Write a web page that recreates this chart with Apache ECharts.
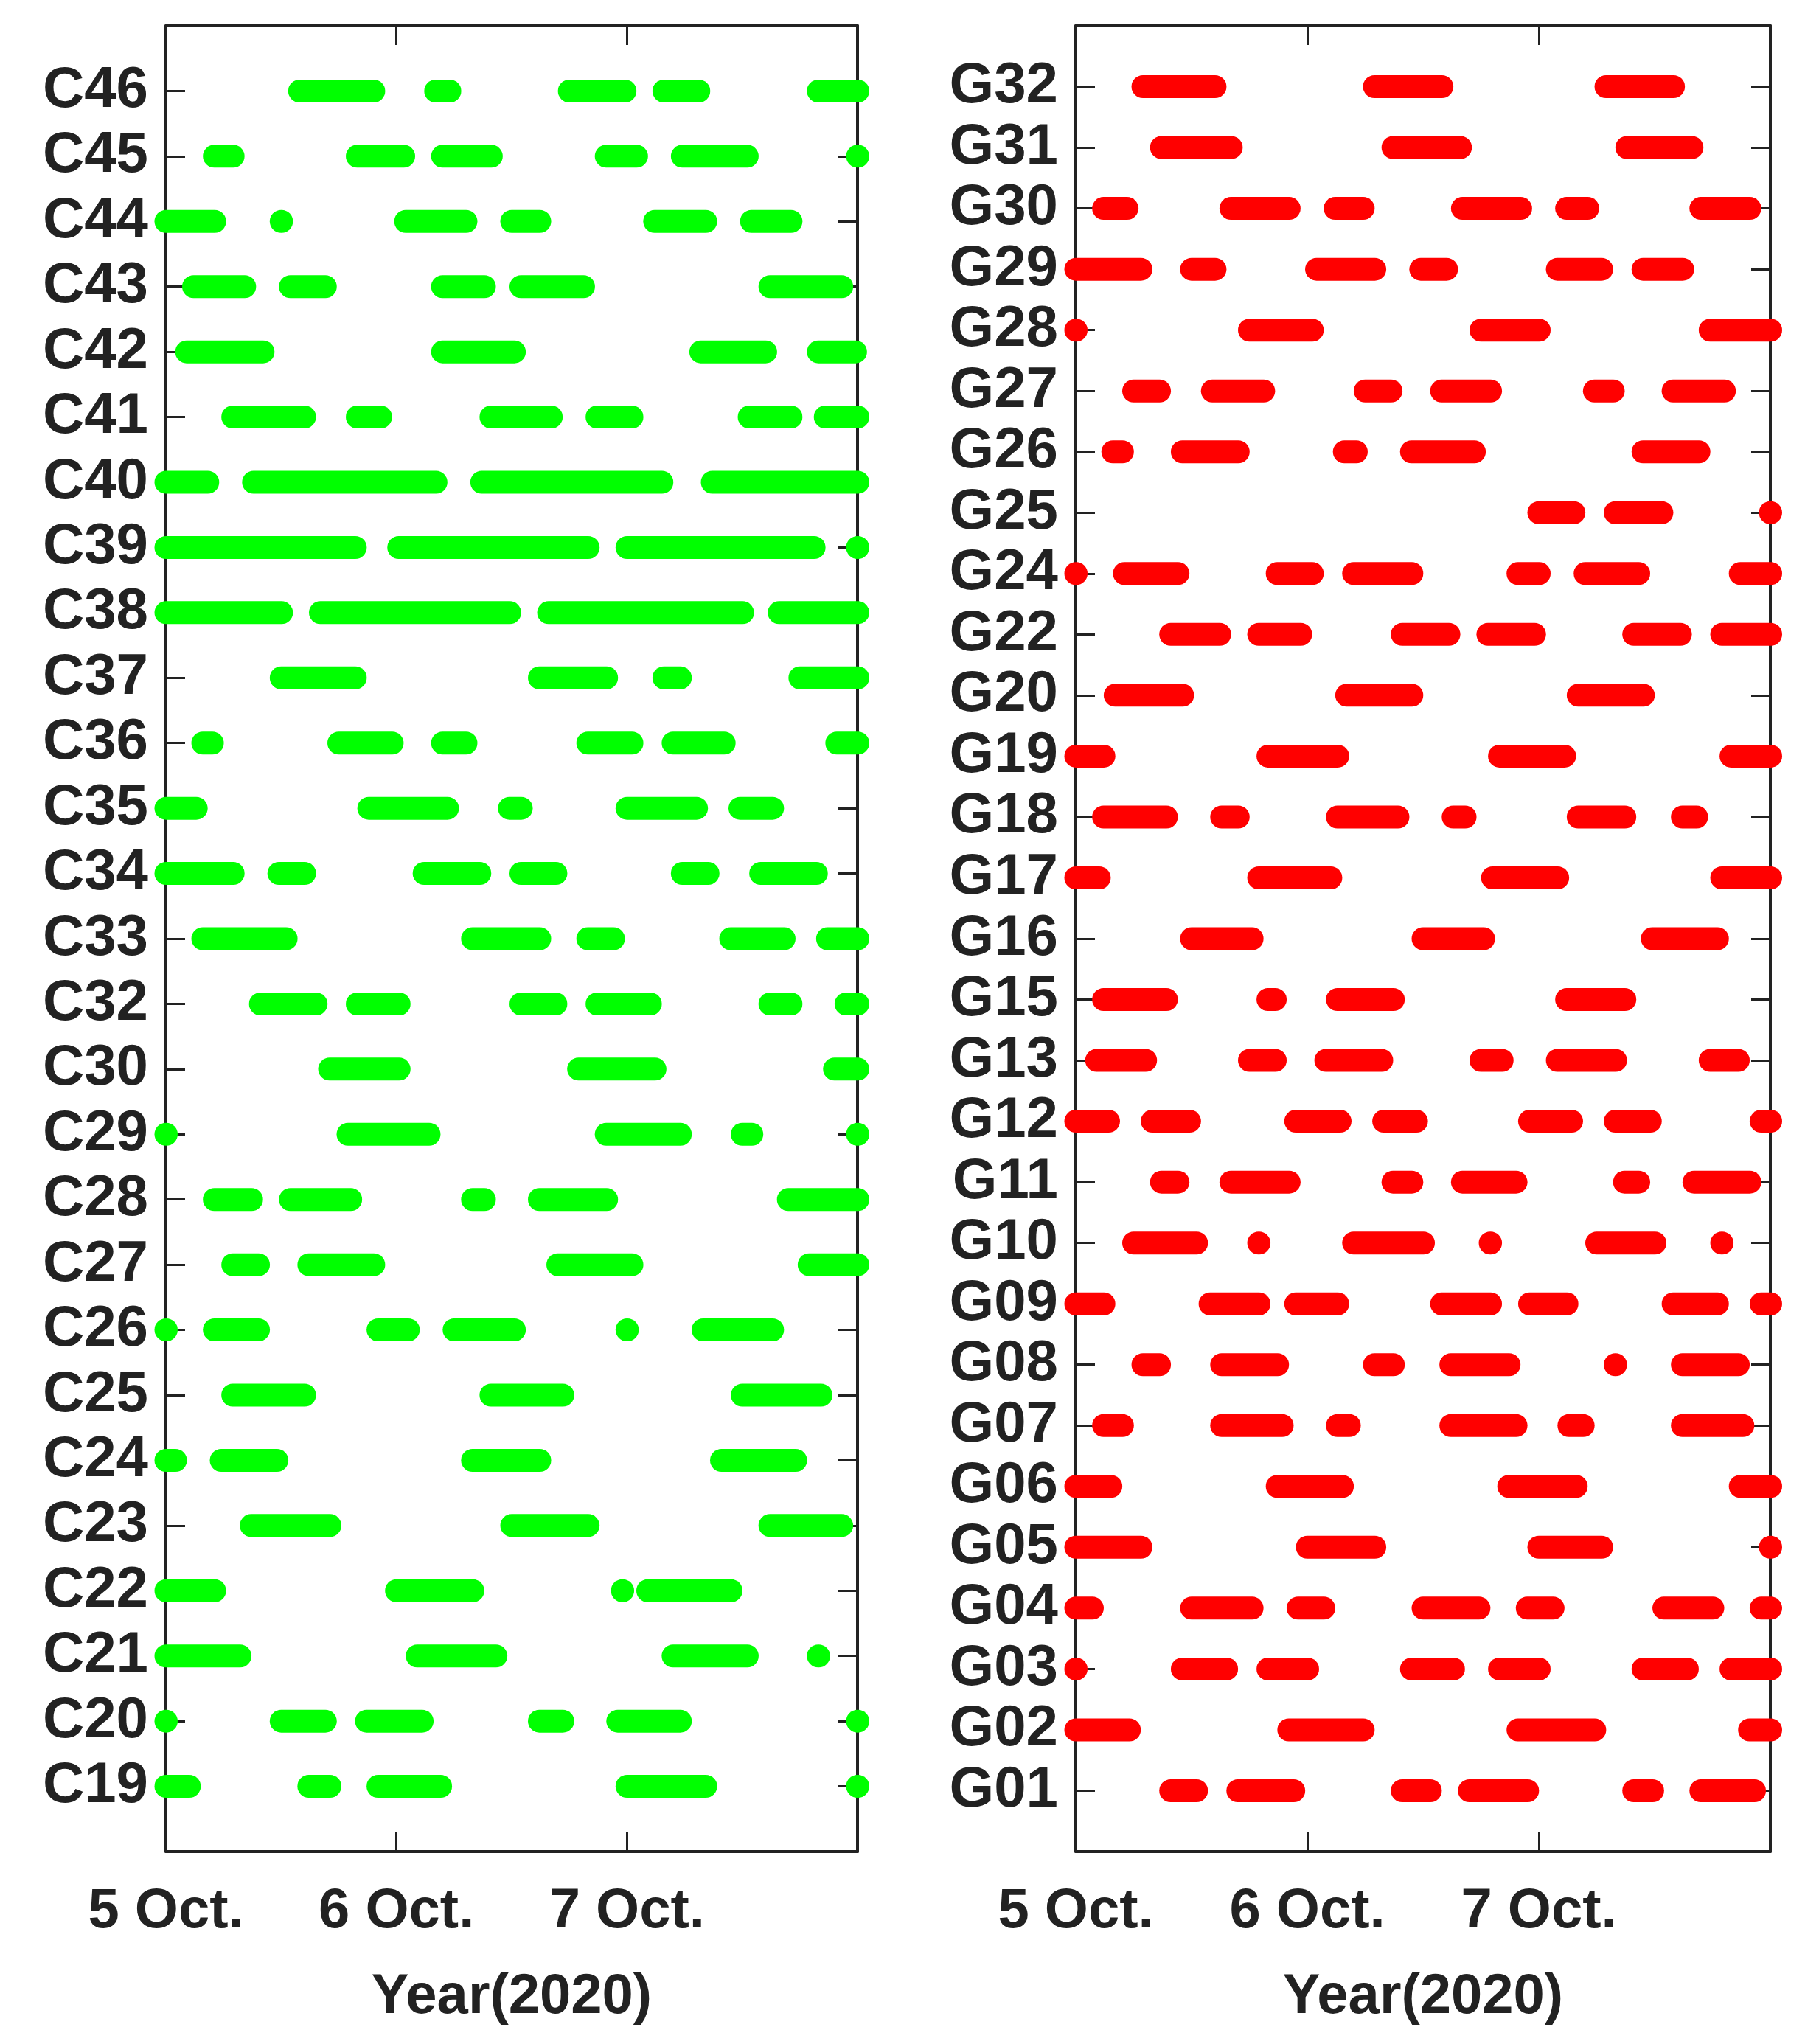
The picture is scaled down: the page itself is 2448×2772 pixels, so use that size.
<!DOCTYPE html>
<html>
<head>
<meta charset="utf-8">
<script src="https://cdn.jsdelivr.net/npm/echarts@6/dist/echarts.min.js"></script>
<style>html,body{margin:0;padding:0;background:#fff}#main{width:2448px;height:2772px}</style>
</head>
<body>
<div id="main"></div>
<script>
// days since 5 Oct 2020 00:00, [start, end] per visible segment
const cNames = ['C46','C45','C44','C43','C42','C41','C40','C39','C38','C37','C36','C35','C34','C33','C32','C30','C29','C28','C27','C26','C25','C24','C23','C22','C21','C20','C19']
const cSegs = [
  [[0.54,0.94],[1.13,1.27],[1.71,2.03],[2.12,2.35],[2.79,3.0]],
  [[0.17,0.33],[0.79,1.07],[1.16,1.45],[1.87,2.08],[2.20,2.56],[3.0,3.0]],
  [[0,0.25],[0.50,0.50],[1.0,1.34],[1.46,1.66],[2.08,2.38],[2.50,2.75]],
  [[0.08,0.38],[0.50,0.73],[1.16,1.42],[1.50,1.85],[2.58,2.97]],
  [[0.05,0.46],[1.16,1.55],[2.28,2.64],[2.79,2.99]],
  [[0.25,0.64],[0.79,0.97],[1.37,1.71],[1.83,2.06],[2.49,2.75],[2.82,3.0]],
  [[0,0.22],[0.34,1.21],[1.33,2.19],[2.33,3.0]],
  [[0,0.86],[0.97,1.87],[1.96,2.85],[3.0,3.0]],
  [[0,0.54],[0.63,1.53],[1.62,2.54],[2.62,3.0]],
  [[0.46,0.86],[1.58,1.95],[2.12,2.27],[2.71,3.0]],
  [[0.12,0.24],[0.71,1.02],[1.16,1.34],[1.79,2.06],[2.16,2.46],[2.87,3.0]],
  [[0,0.17],[0.84,1.26],[1.45,1.58],[1.96,2.34],[2.45,2.67]],
  [[0,0.33],[0.45,0.64],[1.08,1.40],[1.50,1.73],[2.20,2.39],[2.54,2.86]],
  [[0.12,0.56],[1.29,1.66],[1.79,1.98],[2.41,2.72],[2.83,3.0]],
  [[0.37,0.69],[0.79,1.05],[1.50,1.73],[1.83,2.14],[2.58,2.75],[2.91,3.0]],
  [[0.67,1.05],[1.75,2.16],[2.86,3.0]],
  [[0,0],[0.75,1.18],[1.87,2.27],[2.46,2.58],[3.0,3.0]],
  [[0.17,0.41],[0.50,0.84],[1.29,1.42],[1.58,1.95],[2.66,3.0]],
  [[0.25,0.44],[0.58,0.94],[1.66,2.06],[2.75,3.0]],
  [[0,0],[0.17,0.44],[0.88,1.09],[1.21,1.55],[2.0,2.0],[2.29,2.67]],
  [[0.25,0.64],[1.37,1.76],[2.46,2.88]],
  [[0,0.08],[0.20,0.52],[1.29,1.66],[2.37,2.77]],
  [[0.33,0.75],[1.46,1.87],[2.58,2.97]],
  [[0,0.25],[0.96,1.37],[1.98,1.98],[2.05,2.49]],
  [[0,0.36],[1.05,1.47],[2.16,2.56],[2.83,2.83]],
  [[0,0],[0.46,0.73],[0.83,1.15],[1.58,1.76],[1.92,2.27],[3.0,3.0]],
  [[0,0.14],[0.58,0.75],[0.88,1.23],[1.96,2.38],[3.0,3.0]]
]
const gNames = ['G32','G31','G30','G29','G28','G27','G26','G25','G24','G22','G20','G19','G18','G17','G16','G15','G13','G12','G11','G10','G09','G08','G07','G06','G05','G04','G03','G02','G01']
const gSegs = [
  [[0.25,0.64],[1.25,1.62],[2.25,2.62]],
  [[0.33,0.71],[1.33,1.70],[2.34,2.70]],
  [[0.08,0.26],[0.63,0.96],[1.08,1.28],[1.63,1.96],[2.08,2.25],[2.66,2.95]],
  [[0,0.32],[0.46,0.64],[1.0,1.33],[1.45,1.64],[2.04,2.31],[2.41,2.66]],
  [[0,0],[0.71,1.06],[1.71,2.04],[2.70,3.0]],
  [[0.21,0.40],[0.55,0.85],[1.21,1.40],[1.54,1.83],[2.20,2.36],[2.54,2.84]],
  [[0.12,0.24],[0.42,0.74],[1.12,1.25],[1.41,1.76],[2.41,2.73]],
  [[1.96,2.19],[2.29,2.57],[3.0,3.0]],
  [[0,0],[0.17,0.48],[0.83,1.06],[1.16,1.49],[1.87,2.04],[2.16,2.47],[2.83,3.0]],
  [[0.37,0.66],[0.75,1.01],[1.37,1.65],[1.74,2.02],[2.37,2.65],[2.75,3.0]],
  [[0.13,0.50],[1.13,1.49],[2.13,2.49]],
  [[0,0.16],[0.79,1.17],[1.79,2.15],[2.79,3.0]],
  [[0.08,0.43],[0.59,0.74],[1.09,1.43],[1.59,1.72],[2.13,2.41],[2.58,2.72]],
  [[0,0.14],[0.75,1.14],[1.76,2.12],[2.75,3.0]],
  [[0.46,0.80],[1.46,1.80],[2.45,2.81]],
  [[0.08,0.43],[0.79,0.90],[1.09,1.41],[2.08,2.41]],
  [[0.05,0.34],[0.71,0.90],[1.04,1.36],[1.71,1.88],[2.04,2.37],[2.70,2.90]],
  [[0,0.18],[0.29,0.53],[0.91,1.18],[1.29,1.51],[1.92,2.18],[2.29,2.52],[2.92,3.0]],
  [[0.33,0.48],[0.63,0.96],[1.33,1.49],[1.63,1.94],[2.33,2.47],[2.63,2.95]],
  [[0.21,0.56],[0.79,0.79],[1.16,1.54],[1.79,1.79],[2.21,2.54],[2.79,2.79]],
  [[0,0.16],[0.54,0.83],[0.91,1.17],[1.54,1.83],[1.92,2.16],[2.54,2.81],[2.92,3.0]],
  [[0.25,0.40],[0.59,0.91],[1.25,1.41],[1.58,1.91],[2.33,2.33],[2.58,2.90]],
  [[0.08,0.24],[0.59,0.93],[1.09,1.22],[1.58,1.94],[2.09,2.23],[2.58,2.92]],
  [[0,0.19],[0.83,1.19],[1.83,2.20],[2.83,3.0]],
  [[0,0.32],[0.96,1.33],[1.96,2.31],[3.0,3.0]],
  [[0,0.11],[0.46,0.80],[0.92,1.11],[1.46,1.78],[1.91,2.10],[2.50,2.79],[2.92,3.0]],
  [[0,0],[0.42,0.69],[0.79,1.04],[1.41,1.67],[1.79,2.04],[2.41,2.68],[2.79,3.0]],
  [[0,0.27],[0.88,1.28],[1.87,2.28],[2.87,3.0]],
  [[0.37,0.56],[0.66,0.98],[1.37,1.57],[1.66,1.99],[2.37,2.53],[2.66,2.97]]
]
const xTickLabels = ['5 Oct.', '6 Oct.', '7 Oct.', '']

const CAP = 0.04
function toData(names, segs) {
  const out = []
  segs.forEach((row, i) => {
    const y = names.length - 1 - i
    row.forEach(([s, e]) => {
      let a = s > 0.01 ? s + CAP : s
      let b = e < 2.99 ? e - CAP : e
      if (a > b) { a = b = (s + e) / 2 }
      out.push([a, b, y])
    })
  })
  return out
}

const font = 'Liberation Sans, Arial, sans-serif'
const grids = [
  { left: 225, width: 938, top: 35, height: 2476 },
  { left: 1459, width: 942, top: 35, height: 2476 }
]

function xAxes(gi) {
  const base = {
    type: 'value', gridIndex: gi, min: 0, max: 3, interval: 1,
    axisLine: { show: true, onZero: false, lineStyle: { color: '#222', width: 4 } },
    axisTick: { inside: true, length: 26, lineStyle: { color: '#222', width: 3 } },
    splitLine: { show: false }
  }
  return [
    Object.assign({}, base, {
      position: 'bottom',
      name: 'Year(2020)', nameLocation: 'middle', nameGap: 160,
      nameTextStyle: { fontSize: 76, fontWeight: 'bold', color: '#222', fontFamily: font },
      axisLabel: { margin: 44, fontSize: 76, fontWeight: 'bold', color: '#222', fontFamily: font,
        formatter: v => xTickLabels[v] || '' }
    }),
    Object.assign({}, base, { position: 'top', axisLabel: { show: false } })
  ]
}

function yAxes(gi, names) {
  const n = names.length
  const base = {
    type: 'value', gridIndex: gi, min: -1, max: n, interval: 1,
    axisLine: { show: true, onZero: false, lineStyle: { color: '#222', width: 4 } },
    axisTick: { inside: true, length: 26, lineStyle: { color: '#222', width: 3 } },
    splitLine: { show: false }
  }
  return [
    Object.assign({}, base, {
      position: 'left',
      axisLabel: { margin: 24, fontSize: 78, fontWeight: 'bold', color: '#222', fontFamily: font,
        formatter: v => (v >= 0 && v < n) ? names[n - 1 - v] : '' }
    }),
    Object.assign({}, base, { position: 'right', axisLabel: { show: false } })
  ]
}

function segSeries(gi, data, color) {
  return {
    type: 'custom', xAxisIndex: gi * 2, yAxisIndex: gi * 2, clip: false,
    data: data,
    renderItem: (params, api) => {
      const p1 = api.coord([api.value(0), api.value(2)])
      const p2 = api.coord([api.value(1), api.value(2)])
      return {
        type: 'line',
        shape: { x1: p1[0], y1: p1[1], x2: p2[0] + 0.5, y2: p2[1] },
        style: { stroke: color, lineWidth: 31, lineCap: 'round' }
      }
    }
  }
}

const chart = echarts.init(document.getElementById('main'))
chart.setOption({
  animation: false,
  backgroundColor: '#fff',
  grid: grids,
  xAxis: xAxes(0).concat(xAxes(1)),
  yAxis: yAxes(0, cNames).concat(yAxes(1, gNames)),
  series: [
    segSeries(0, toData(cNames, cSegs), '#00ff00'),
    segSeries(1, toData(gNames, gSegs), '#ff0000')
  ]
})
</script>
</body>
</html>
